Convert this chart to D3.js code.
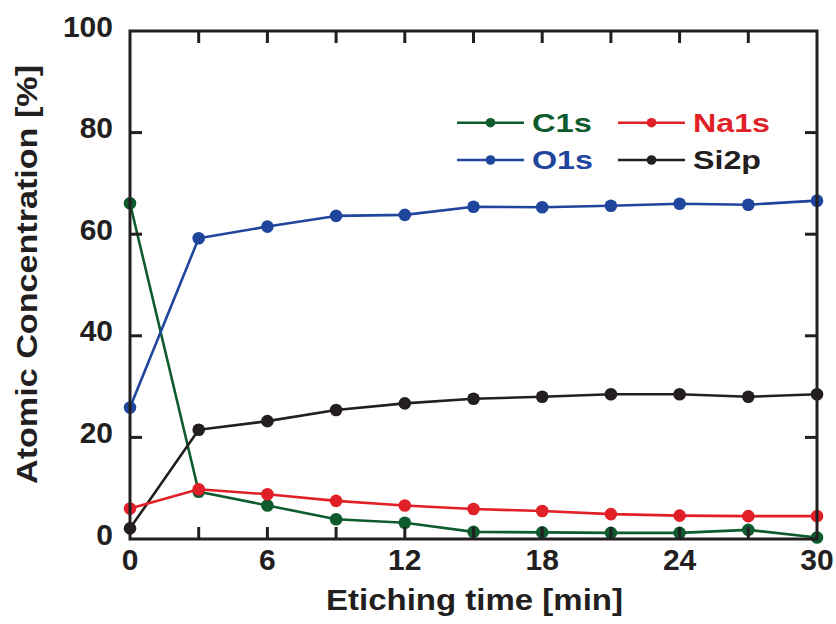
<!DOCTYPE html>
<html>
<head>
<meta charset="utf-8">
<script src="https://cdn.jsdelivr.net/npm/d3@7/dist/d3.min.js"></script>
<style>
  html, body { margin: 0; padding: 0; background: #fff; }
  svg { display: block; }
  text { font-family: "Liberation Sans", Arial, Helvetica, sans-serif; font-weight: bold; }
</style>
</head>
<body>
<svg id="chart" width="836" height="624"></svg>
<script>
// Etching time (min) and XPS atomic concentrations (%)
const time = [0, 3, 6, 9, 12, 15, 18, 21, 24, 27, 30];
const c1s  = [66.1, 9.3, 6.6, 3.9, 3.2, 1.4, 1.3, 1.2, 1.2, 1.8, 0.3];
const o1s  = [25.9, 59.2, 61.5, 63.6, 63.8, 65.4, 65.3, 65.6, 66.0, 65.8, 66.6];
const na1s = [6.0, 9.8, 8.8, 7.5, 6.6, 5.9, 5.5, 4.9, 4.6, 4.5, 4.5];
const si2p = [2.1, 21.5, 23.2, 25.4, 26.7, 27.6, 28.0, 28.5, 28.5, 28.0, 28.5];

const seriesNames = ["C1s", "O1s", "Na1s", "Si2p"];
const xTickLabels = [0, 6, 12, 18, 24, 30];
const xTickMarks  = [3, 6, 9, 12, 15, 18, 21, 24, 27];
const yTickLabels = [0, 20, 40, 60, 80, 100];
const yTickMarks  = [20, 40, 60, 80];

const colors = { C1s: "#0e5c2d", O1s: "#1f459c", Na1s: "#e11f27", Si2p: "#231f20" };
const values = { C1s: c1s, O1s: o1s, Na1s: na1s, Si2p: si2p };
const ink = "#231f20";

const svg = d3.select("#chart");
const plotLeft = 130, plotRight = 817, plotTop = 31, plotBottom = 539;

const x = d3.scaleLinear().domain([0, 30]).range([plotLeft, plotRight]);
const y = d3.scaleLinear().domain([0, 100]).range([plotBottom, plotTop]);
const tickLen = 12;

// series lines and markers (drawing order keeps Na1s above C1s)
const drawOrder = ["C1s", "O1s", "Si2p", "Na1s"];
const line = d3.line().x(d => x(d[0])).y(d => y(d[1]));
drawOrder.forEach(name => {
  const pts = time.map((t, i) => [t, values[name][i]]);
  const g = svg.append("g");
  g.append("path").datum(pts)
    .attr("d", line)
    .attr("fill", "none")
    .attr("stroke", colors[name])
    .attr("stroke-width", 2.6)
    .attr("stroke-linejoin", "round");
  g.selectAll("circle").data(pts).enter().append("circle")
    .attr("cx", d => x(d[0]))
    .attr("cy", d => y(d[1]))
    .attr("r", 6.3)
    .attr("fill", colors[name]);
});

// frame with inward ticks on all four sides
const axes = svg.append("g").attr("stroke", ink).attr("stroke-width", 3).attr("fill", "none");
axes.append("rect")
  .attr("x", plotLeft).attr("y", plotTop)
  .attr("width", plotRight - plotLeft).attr("height", plotBottom - plotTop);
xTickMarks.forEach(t => {
  axes.append("line").attr("x1", x(t)).attr("x2", x(t)).attr("y1", plotBottom).attr("y2", plotBottom - tickLen);
  axes.append("line").attr("x1", x(t)).attr("x2", x(t)).attr("y1", plotTop).attr("y2", plotTop + tickLen);
});
yTickMarks.forEach(v => {
  axes.append("line").attr("x1", plotLeft).attr("x2", plotLeft + tickLen).attr("y1", y(v)).attr("y2", y(v));
  axes.append("line").attr("x1", plotRight).attr("x2", plotRight - tickLen).attr("y1", y(v)).attr("y2", y(v));
});

// tick labels
svg.append("g").selectAll("text").data(xTickLabels).enter().append("text")
  .attr("x", d => x(d))
  .attr("y", 570)
  .attr("text-anchor", "middle")
  .attr("font-size", 30)
  .attr("fill", ink)
  .text(d => d);
svg.append("g").selectAll("text").data(yTickLabels).enter().append("text")
  .attr("x", 113)
  .attr("y", d => y(d) + 5.5)
  .attr("text-anchor", "end")
  .attr("font-size", 30)
  .attr("fill", ink)
  .text(d => d);

// axis titles
svg.append("text")
  .attr("x", 474.5).attr("y", 610)
  .attr("text-anchor", "middle")
  .attr("font-size", 29)
  .attr("fill", ink)
  .attr("textLength", 297)
  .attr("lengthAdjust", "spacingAndGlyphs")
  .text("Etiching time [min]");
svg.append("text")
  .attr("transform", "translate(37,274.5) rotate(-90)")
  .attr("text-anchor", "middle")
  .attr("font-size", 29)
  .attr("fill", ink)
  .attr("textLength", 419)
  .attr("lengthAdjust", "spacingAndGlyphs")
  .text("Atomic Concentration [%]");

// legend (two columns, two rows)
const legendItems = [
  { name: "C1s",  lx: 457, ly: 122.7, tw: 60 },
  { name: "Na1s", lx: 618, ly: 122.7, tw: 77 },
  { name: "O1s",  lx: 457, ly: 160,   tw: 61 },
  { name: "Si2p", lx: 618, ly: 160,   tw: 68 }
];
const legend = svg.append("g");
legendItems.forEach(it => {
  legend.append("line")
    .attr("x1", it.lx).attr("x2", it.lx + 67)
    .attr("y1", it.ly).attr("y2", it.ly)
    .attr("stroke", colors[it.name]).attr("stroke-width", 2.6);
  legend.append("circle")
    .attr("cx", it.lx + 33.5).attr("cy", it.ly).attr("r", 4.8)
    .attr("fill", colors[it.name]);
  legend.append("text")
    .attr("x", it.lx + 75).attr("y", it.ly + 9)
    .attr("font-size", 25)
    .attr("fill", colors[it.name])
    .attr("textLength", it.tw)
    .attr("lengthAdjust", "spacingAndGlyphs")
    .text(it.name);
});
</script>
</body>
</html>
